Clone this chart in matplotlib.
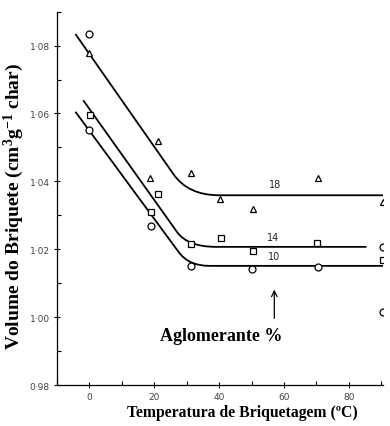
import numpy as np
import matplotlib.pyplot as plt
from matplotlib.path import Path
from matplotlib.patches import PathPatch
from matplotlib.ticker import MultipleLocator, FuncFormatter

plt.rcParams['mathtext.fontset'] = 'custom'
plt.rcParams['mathtext.rm'] = 'Liberation Serif:bold'
plt.rcParams['mathtext.it'] = 'Liberation Serif:bold'
plt.rcParams['mathtext.bf'] = 'Liberation Serif:bold'

# pontos experimentais (aglomerante 18, 14, 10 %)
temp_18 = [0, 18.8, 21.3, 31.3, 40.3, 50.4, 70.4, 90.4]
vol_18 = [1.0777, 1.0411, 1.0518, 1.0425, 1.0349, 1.0320, 1.0411, 1.0340]
temp_14 = [0.3, 19.0, 21.3, 31.3, 40.5, 50.3, 70.2, 90.6]
vol_14 = [1.0595, 1.0309, 1.0364, 1.0216, 1.0233, 1.0195, 1.0219, 1.0169]
temp_10 = [0, 0, 19.0, 31.3, 50.2, 70.4, 90.6, 90.6]
vol_10 = [1.0835, 1.0552, 1.0267, 1.0152, 1.0143, 1.0148, 1.0206, 1.0014]

# curvas ajustadas: inicio, fim da reta, joelho, inicio do patamar, fim
fit18_x = [-4.3, 26.0, 30.5, 40.0, 90.5]
fit18_y = [1.0834, 1.0420, 1.0359, 1.0359, 1.0359]
fit14_x = [-1.9, 27.0, 30.3, 39.0, 85.4]
fit14_y = [1.0639, 1.0251, 1.0207, 1.0207, 1.0207]
fit10_x = [-4.3, 27.5, 30.6, 37.0, 90.5]
fit10_y = [1.0605, 1.0192, 1.0151, 1.0151, 1.0151]

labels = ['18', '14', '10']
label_pos = [(57.2, 1.0377), (56.7, 1.0222), (57.0, 1.0164)]

fig = plt.figure(figsize=(3.9, 4.27), dpi=100)
ax = fig.add_axes([0.146, 0.096, 0.836, 0.8744])

codes = [Path.MOVETO, Path.LINETO, Path.CURVE3, Path.CURVE3, Path.LINETO]
for fx, fy in [(fit18_x, fit18_y), (fit14_x, fit14_y), (fit10_x, fit10_y)]:
    p = Path(np.column_stack([fx, fy]), codes)
    ax.add_patch(PathPatch(p, fill=False, edgecolor='black', lw=1.3))

mk = dict(linestyle='none', mfc='white', mec='black', mew=0.9, ms=5, zorder=3)
ax.plot(temp_18, vol_18, marker='^', **mk)
ax.plot(temp_14, vol_14, marker='s', **mk)
ax.plot(temp_10, vol_10, marker='o', **mk)

for lab, (lx, ly) in zip(labels, label_pos):
    ax.text(lx, ly, lab, fontsize=7, color='#222222', ha='center', va='bottom')

ax.annotate('', xy=(57, 1.0089), xytext=(57, 0.9988),
            arrowprops=dict(arrowstyle='->', color='black', lw=0.9))
ax.text(40.6, 0.9947, 'Aglomerante %', fontsize=13, fontweight='bold',
        family='Liberation Serif', ha='center', va='center')

ax.set_xlim(-10, 90.5)
ax.set_ylim(0.98, 1.09)
ax.xaxis.set_major_locator(MultipleLocator(20))
ax.xaxis.set_minor_locator(MultipleLocator(10))
ax.yaxis.set_major_locator(MultipleLocator(0.02))
ax.yaxis.set_minor_locator(MultipleLocator(0.01))
ax.yaxis.set_major_formatter(FuncFormatter(lambda v, p: ('%.2f' % v).replace('.', '·')))
ax.xaxis.set_major_formatter(FuncFormatter(lambda v, p: '%d' % v))
ax.tick_params(which='major', direction='inout', length=5, width=0.8,
               labelsize=6.5, labelcolor='#444444', pad=2.5)
ax.tick_params(which='minor', direction='in', length=3, width=0.8)
ax.spines['top'].set_visible(False)
ax.spines['right'].set_visible(False)
for s in ['left', 'bottom']:
    ax.spines[s].set_linewidth(0.9)

ax.set_xlabel('Temperatura de Briquetagem (ºC)', fontsize=11.3, fontweight='bold',
              family='Liberation Serif')
ax.xaxis.set_label_coords(0.57, -0.05)
ax.set_ylabel('Volume do Briquete (cm$^{3}$g$^{-1}$ char)', fontsize=14,
              fontweight='bold', family='Liberation Serif')
ax.yaxis.set_label_coords(-0.095, 0.48)

fig.savefig('out.png', dpi=100)
